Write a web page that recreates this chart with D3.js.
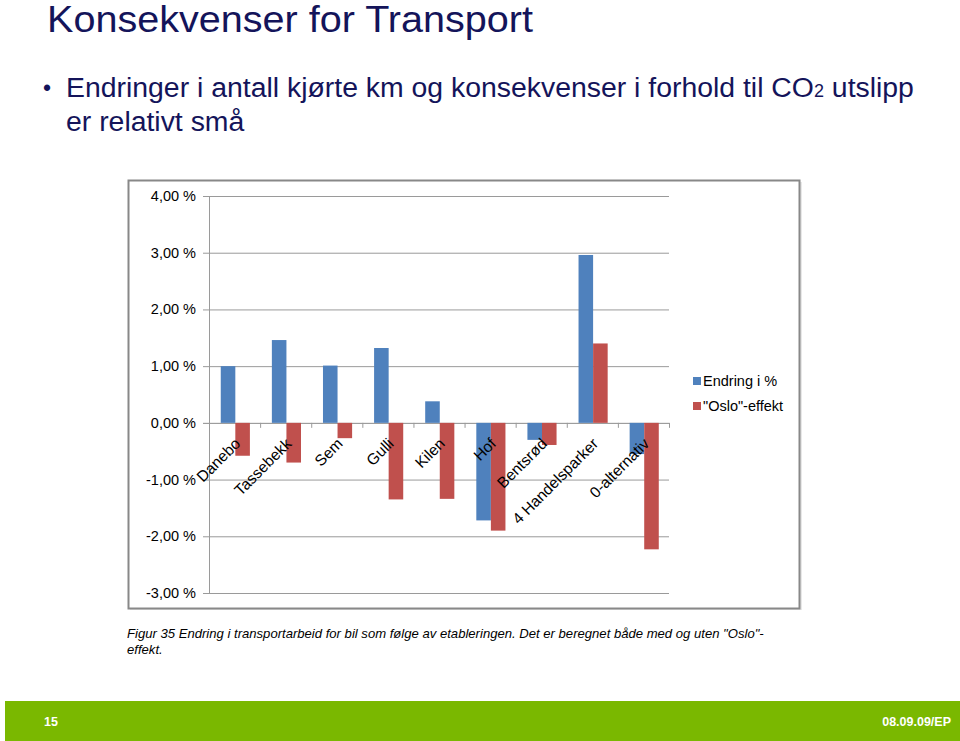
<!DOCTYPE html>
<html><head><meta charset="utf-8">
<script src="https://cdn.jsdelivr.net/npm/d3@7"></script>
<style>body{margin:0;background:#fff}svg{display:block}</style>
</head><body>
<svg id="c" width="960" height="741"></svg>
<script>
const categories = ["Danebo","Tassebekk","Sem","Gulli","Kilen","Hof","Bentsrød","4 Handelsparker","0-alternativ"];
const endring = [1.00, 1.46, 1.01, 1.32, 0.38, -1.72, -0.30, 2.96, -0.55];
const oslo = [-0.58, -0.70, -0.27, -1.35, -1.34, -1.90, -0.39, 1.40, -2.23];
const seriesNames = ["Endring i %", "\"Oslo\"-effekt"];
const colors = ["#4f81bd", "#c0504d"];
const yTicks = [4, 3, 2, 1, 0, -1, -2, -3];

const svg = d3.select("#c");
const navy = "#14145a";
const font = "Liberation Sans, Arial, sans-serif";

// Title and bullet
svg.append("text").attr("x", 47).attr("y", 32).attr("font-family", font).attr("font-size", 37)
  .attr("fill", navy).attr("textLength", 486).attr("lengthAdjust", "spacingAndGlyphs").text("Konsekvenser for Transport");
svg.append("text").attr("x", 43).attr("y", 96).attr("font-family", font).attr("font-size", 23).attr("fill", navy).text("•");
const l1 = svg.append("text").attr("x", 66).attr("y", 97).attr("font-family", font).attr("font-size", 28.4).attr("fill", navy);
l1.append("tspan").text("Endringer i antall kjørte km og konsekvenser i forhold til CO");
l1.append("tspan").attr("font-size", 18).text("2");
l1.append("tspan").text("  utslipp");
svg.append("text").attr("x", 66).attr("y", 131).attr("font-family", font).attr("font-size", 28.4).attr("fill", navy).text("er relativt små");

// Chart frame
svg.append("rect").attr("x", 130).attr("y", 182).attr("width", 672).attr("height", 428).attr("fill", "#e8e8e8");
svg.append("rect").attr("x", 128.5).attr("y", 180.5).attr("width", 671).attr("height", 428)
  .attr("fill", "#fff").attr("stroke", "#888").attr("stroke-width", 2);

const x0 = 209, x1 = 669;
const y = d3.scaleLinear().domain([-3, 4]).range([593, 196]);
const x = d3.scaleBand().domain(categories).range([x0, x1]).paddingInner(0).paddingOuter(0);
const xs = d3.scaleBand().domain([0, 1]).range([x.bandwidth() * 0.23, x.bandwidth() * 0.80]);

// gridlines
svg.append("g").selectAll("line").data(yTicks).join("line")
  .attr("x1", x0 - 6).attr("x2", x1).attr("y1", d => y(d) + 0.5).attr("y2", d => y(d) + 0.5)
  .attr("stroke", d => d === 0 ? "#8c8c8c" : "#9a9a9a").attr("stroke-width", 1);
// y axis line
svg.append("line").attr("x1", x0 + 0.5).attr("x2", x0 + 0.5).attr("y1", y(4)).attr("y2", y(-3)).attr("stroke", "#9a9a9a");
// y labels
svg.append("g").selectAll("text").data(yTicks).join("text")
  .attr("x", 196).attr("y", d => y(d) + 5).attr("text-anchor", "end")
  .attr("font-family", font).attr("font-size", 14.5).attr("fill", "#000")
  .text(d => d3.format(".2f")(d).replace(".", ",").replace("−", "-") + " %");

// bars
const g = svg.append("g");
categories.forEach((c, i) => {
  [endring[i], oslo[i]].forEach((v, s) => {
    g.append("rect").attr("x", x(c) + xs(s)).attr("width", xs.bandwidth())
      .attr("y", y(Math.max(0, v))).attr("height", Math.abs(y(v) - y(0)))
      .attr("fill", colors[s]);
  });
});

// x ticks on zero line
svg.append("g").selectAll("line").data(d3.range(categories.length + 1)).join("line")
  .attr("x1", i => x0 + i * x.bandwidth() + 0.5).attr("x2", i => x0 + i * x.bandwidth() + 0.5)
  .attr("y1", y(0)).attr("y2", y(0) + 5).attr("stroke", "#9a9a9a");

// category labels
svg.append("g").selectAll("text").data(categories).join("text")
  .attr("transform", c => `translate(${x(c) + x.bandwidth() / 2 + 3},${y(0) + 18}) rotate(-45)`)
  .attr("text-anchor", "end").attr("font-family", font).attr("font-size", 15.5).attr("fill", "#000")
  .attr("dy", "0.35em").text(c => c);

// legend
const lg = svg.append("g");
seriesNames.forEach((n, i) => {
  lg.append("rect").attr("x", 693).attr("y", 377 + i * 25).attr("width", 8).attr("height", 8).attr("fill", colors[i]);
  lg.append("text").attr("x", 703).attr("y", 386 + i * 25).attr("font-family", font).attr("font-size", 14.5).attr("fill", "#000").text(n);
});

// caption
svg.append("text").attr("x", 127).attr("y", 638).attr("font-family", font).attr("font-size", 13.1)
  .attr("font-style", "italic").attr("fill", "#000").text("Figur 35 Endring i transportarbeid for bil som følge av etableringen. Det er beregnet både med og uten \"Oslo\"-");
svg.append("text").attr("x", 127).attr("y", 654).attr("font-family", font).attr("font-size", 13.1)
  .attr("font-style", "italic").attr("fill", "#000").text("effekt.");

// footer
svg.append("rect").attr("x", 5).attr("y", 701).attr("width", 955).attr("height", 40).attr("fill", "#7ab800");
svg.append("text").attr("x", 44).attr("y", 726).attr("font-family", font).attr("font-size", 12.5).attr("font-weight", "bold").attr("fill", "#fff").text("15");
svg.append("text").attr("x", 951).attr("y", 726).attr("text-anchor", "end").attr("font-family", font).attr("font-size", 12.5).attr("font-weight", "bold").attr("fill", "#fff").text("08.09.09/EP");
</script>
</body></html>
